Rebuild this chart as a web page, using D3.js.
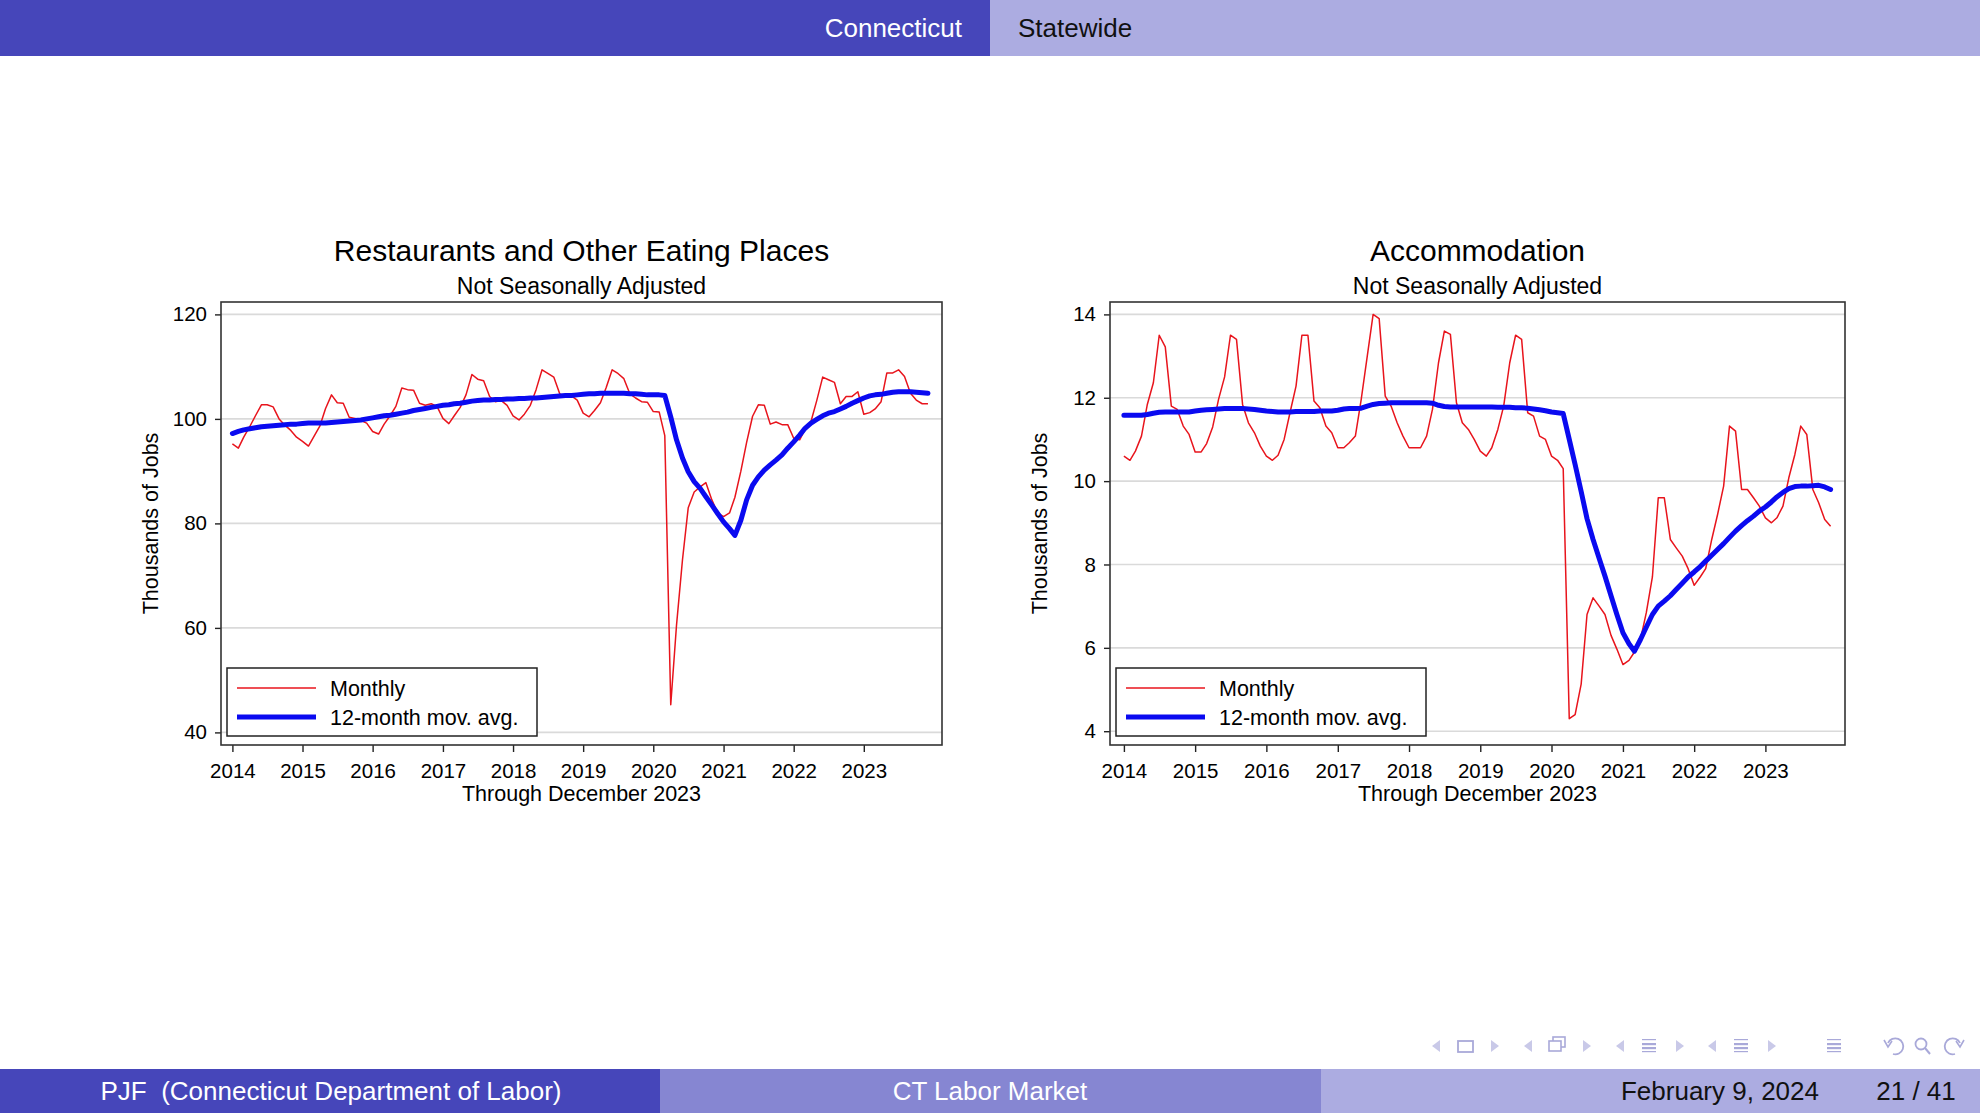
<!DOCTYPE html>
<html>
<head>
<meta charset="utf-8">
<script src="https://cdn.jsdelivr.net/npm/d3@7"></script>
<style>
  body { margin: 0; background: #fff; }
  svg text { font-family: "Liberation Sans", Arial, Helvetica, sans-serif; }
</style>
</head>
<body>
<svg id="slide" width="1980" height="1113"></svg>
<script>
// ---- data (thousands of jobs, Jan 2014 .. Dec 2023) ----
const years = [2014, 2015, 2016, 2017, 2018, 2019, 2020, 2021, 2022, 2023];
const months = d3.range(years.length * 12).map(i => new Date(years[0], i, 1));

const restMonthly = [
  95.2, 94.4, 96.5, 98.5, 100.6, 102.7, 102.7, 102.3, 100.0, 98.8, 97.8, 96.5,
  95.7, 94.8, 96.6, 98.6, 102.0, 104.6, 103.1, 103.0, 100.3, 100.1, 99.7, 99.2,
  97.6, 97.1, 99.0, 100.6, 102.4, 105.9, 105.6, 105.5, 103.0, 102.6, 102.9, 102.4,
  100.1, 99.1, 100.6, 102.2, 104.6, 108.5, 107.6, 107.3, 104.3, 103.3, 103.5, 102.6,
  100.6, 99.8, 100.9, 102.6, 105.6, 109.4, 108.7, 108.0, 104.8, 104.2, 104.4, 103.6,
  101.1, 100.4, 101.6, 103.1, 106.0, 109.4, 108.7, 107.7, 104.8, 104.0, 103.3, 103.2,
  101.4, 101.3, 96.8, 45.3, 60.5, 73.0, 83.0, 86.0, 87.0, 87.8, 84.5, 82.0,
  81.3, 82.0, 85.0, 90.0, 95.5, 100.5, 102.7, 102.6, 99.0, 99.4, 98.9, 98.9,
  96.3, 96.0, 98.0, 99.5, 103.5, 108.0, 107.5, 107.0, 102.9, 104.3, 104.3, 105.2,
  100.9, 101.2, 101.9, 103.3, 108.8, 108.8, 109.4, 108.1, 104.9, 103.6, 102.9, 102.9
];
const restAvg = [
  97.2, 97.6, 97.9, 98.1, 98.3, 98.5, 98.6, 98.7, 98.8, 98.9, 99.0, 99.0,
  99.1, 99.2, 99.2, 99.2, 99.2, 99.3, 99.4, 99.5, 99.6, 99.7, 99.8, 100.0,
  100.2, 100.4, 100.6, 100.7, 100.9, 101.1, 101.3, 101.6, 101.8, 102.0, 102.2, 102.4,
  102.6, 102.7, 102.9, 103.0, 103.2, 103.4, 103.5, 103.6, 103.6, 103.7, 103.7, 103.8,
  103.8, 103.9, 103.9, 104.0, 104.0, 104.1, 104.2, 104.3, 104.4, 104.5, 104.5, 104.6,
  104.7, 104.8, 104.8, 104.9, 104.9, 104.9, 104.9, 104.9, 104.8, 104.8, 104.7, 104.6,
  104.6, 104.6, 104.5, 100.4, 96.0, 92.5, 89.9, 88.0, 86.7, 85.1, 83.5, 81.9,
  80.3, 79.0, 77.7, 80.6, 84.5, 87.3, 88.9, 90.2, 91.2, 92.1, 93.1, 94.4,
  95.6, 96.9, 98.2, 99.2, 99.9, 100.6, 101.1, 101.4, 101.9, 102.4, 103.0, 103.5,
  104.0, 104.4, 104.6, 104.7, 104.9, 105.1, 105.2, 105.2, 105.2, 105.1, 105.0, 104.9
];

const accMonthly = [
  10.6, 10.5, 10.72, 11.08, 11.84, 12.36, 13.5, 13.22, 11.8, 11.72, 11.32, 11.12,
  10.7, 10.7, 10.9, 11.3, 11.96, 12.5, 13.5, 13.4, 11.84, 11.4, 11.16, 10.84,
  10.6, 10.5, 10.62, 11.0, 11.64, 12.28, 13.5, 13.5, 11.92, 11.76, 11.32, 11.16,
  10.8, 10.8, 10.92, 11.08, 11.96, 13.0, 14.0, 13.9, 12.04, 11.8, 11.4, 11.08,
  10.8, 10.8, 10.8, 11.08, 11.72, 12.84, 13.6, 13.52, 11.88, 11.4, 11.24, 11.0,
  10.72, 10.6, 10.8, 11.24, 11.8, 12.84, 13.5, 13.4, 11.64, 11.56, 11.08, 11.0,
  10.6, 10.5, 10.3, 4.3, 4.4, 5.13, 6.8, 7.2, 7.0, 6.8, 6.3, 5.97,
  5.6, 5.7, 5.9, 6.2, 6.85, 7.7, 9.6, 9.6, 8.6, 8.4, 8.2, 7.9,
  7.5, 7.7, 7.9, 8.6, 9.2, 9.88, 11.32, 11.2, 9.8, 9.8, 9.6, 9.4,
  9.12, 9.0, 9.12, 9.4, 10.08, 10.64, 11.32, 11.12, 9.8, 9.48, 9.08, 8.92
];
const accAvg = [
  11.58, 11.58, 11.58, 11.58, 11.60, 11.63, 11.65, 11.66, 11.66, 11.66, 11.66, 11.66,
  11.68, 11.70, 11.71, 11.72, 11.73, 11.74, 11.74, 11.74, 11.74, 11.73, 11.72, 11.70,
  11.68, 11.67, 11.66, 11.66, 11.66, 11.67, 11.67, 11.67, 11.67, 11.68, 11.68, 11.68,
  11.70, 11.73, 11.74, 11.74, 11.75, 11.80, 11.84, 11.86, 11.87, 11.88, 11.88, 11.88,
  11.88, 11.88, 11.88, 11.88, 11.87, 11.82, 11.79, 11.78, 11.78, 11.78, 11.78, 11.78,
  11.78, 11.78, 11.78, 11.77, 11.77, 11.77, 11.76, 11.76, 11.75, 11.73, 11.71, 11.69,
  11.66, 11.64, 11.62, 11.00, 10.40, 9.75, 9.10, 8.60, 8.15, 7.72, 7.25, 6.80,
  6.36, 6.10, 5.92, 6.20, 6.50, 6.80, 7.00, 7.12, 7.25, 7.40, 7.55, 7.70,
  7.82, 7.95, 8.08, 8.22, 8.36, 8.50, 8.65, 8.80, 8.93, 9.05, 9.16, 9.28,
  9.38, 9.50, 9.62, 9.73, 9.82, 9.87, 9.88, 9.88, 9.89, 9.90, 9.86, 9.80
];

const restTicks = [40, 60, 80, 100, 120];
const accTicks = [4, 6, 8, 10, 12, 14];
const legendLabels = ["Monthly", "12-month mov. avg."];

const svg = d3.select("#slide");

// ---- beamer header / footer ----
const dark = "#4646BA", mid = "#8686D2", light = "#ACACE1";
svg.append("rect").attr("x", 0).attr("y", 0).attr("width", 990).attr("height", 56).attr("fill", dark);
svg.append("rect").attr("x", 990).attr("y", 0).attr("width", 990).attr("height", 56).attr("fill", light);
svg.append("text").attr("x", 962).attr("y", 37).attr("text-anchor", "end")
  .attr("font-size", 26).attr("fill", "#fff").text("Connecticut");
svg.append("text").attr("x", 1018).attr("y", 37)
  .attr("font-size", 26).attr("fill", "#111").text("Statewide");

const footY = 1069;
svg.append("rect").attr("x", 0).attr("y", footY).attr("width", 660).attr("height", 44).attr("fill", dark);
svg.append("rect").attr("x", 660).attr("y", footY).attr("width", 661).attr("height", 44).attr("fill", mid);
svg.append("rect").attr("x", 1321).attr("y", footY).attr("width", 659).attr("height", 44).attr("fill", light);
svg.append("text").attr("x", 331).attr("y", 1100).attr("text-anchor", "middle")
  .attr("font-size", 26).attr("fill", "#fff").attr("xml:space", "preserve")
  .text("PJF  (Connecticut Department of Labor)");
svg.append("text").attr("x", 990).attr("y", 1100).attr("text-anchor", "middle")
  .attr("font-size", 26).attr("fill", "#fff").text("CT Labor Market");
svg.append("text").attr("x", 1720).attr("y", 1100).attr("text-anchor", "middle")
  .attr("font-size", 26).attr("fill", "#111").text("February 9, 2024");
svg.append("text").attr("x", 1916).attr("y", 1100).attr("text-anchor", "middle")
  .attr("font-size", 26).attr("fill", "#111").text("21 / 41");

// navigation symbols (beamer)
function navIcons(g) {
  const cy = 1046, arrow = "#C9C9E8", icon = "#A9A9D9";
  const tri = (x, dir) => g.append("path")
    .attr("d", `M${x + dir * 4},${cy - 6} L${x - dir * 4},${cy} L${x + dir * 4},${cy + 6} Z`)
    .attr("fill", arrow);
  const lines = (x) => {
    [-7, -3, 1, 5].forEach((dy, i) => g.append("rect")
      .attr("x", x - 7).attr("y", cy + dy).attr("width", 14).attr("height", i % 3 == 0 ? 1.2 : 2.2)
      .attr("fill", icon));
  };
  tri(1436, 1); tri(1495, -1);
  g.append("rect").attr("x", 1458).attr("y", cy - 5).attr("width", 15).attr("height", 11)
    .attr("fill", "none").attr("stroke", icon).attr("stroke-width", 1.8);
  tri(1528, 1); tri(1587, -1);
  g.append("rect").attr("x", 1553).attr("y", cy - 9).attr("width", 12).attr("height", 10)
    .attr("fill", "#fff").attr("stroke", icon).attr("stroke-width", 1.6);
  g.append("rect").attr("x", 1549).attr("y", cy - 5).attr("width", 12).attr("height", 10)
    .attr("fill", "#fff").attr("stroke", icon).attr("stroke-width", 1.6);
  tri(1620, 1); lines(1649); tri(1680, -1);
  tri(1712, 1); lines(1741); tri(1772, -1);
  lines(1834);
  g.append("path").attr("d", `M1888,${cy - 3} A8,8 0 1 1 1893,${cy + 8}`)
    .attr("fill", "none").attr("stroke", icon).attr("stroke-width", 1.8);
  g.append("path").attr("d", `M1884,${cy - 6} L1888,${cy + 1} L1892,${cy - 5}`)
    .attr("fill", "none").attr("stroke", icon).attr("stroke-width", 1.6);
  g.append("circle").attr("cx", 1921).attr("cy", cy - 2).attr("r", 5.5)
    .attr("fill", "none").attr("stroke", icon).attr("stroke-width", 1.8);
  g.append("line").attr("x1", 1925).attr("y1", cy + 2).attr("x2", 1930).attr("y2", cy + 8)
    .attr("stroke", icon).attr("stroke-width", 2);
  g.append("path").attr("d", `M1960,${cy - 3} A8,8 0 1 0 1955,${cy + 8}`)
    .attr("fill", "none").attr("stroke", icon).attr("stroke-width", 1.8);
  g.append("path").attr("d", `M1964,${cy - 6} L1960,${cy + 1} L1956,${cy - 5}`)
    .attr("fill", "none").attr("stroke", icon).attr("stroke-width", 1.6);
}
navIcons(svg.append("g"));

// ---- one Stata-style panel ----
function drawPanel(p) {
  const g = svg.append("g");
  const x = d3.scaleTime()
    .domain([new Date(years[0], 0, 1), new Date(years[years.length - 1], 0, 1)])
    .range([p.x0, p.x1]);
  const y = d3.scaleLinear().domain(p.yDomain).range([p.y0, p.y1]);
  const cx = (p.left + p.right) / 2;

  g.append("text").attr("x", cx).attr("y", 261).attr("text-anchor", "middle")
    .attr("font-size", 30).attr("fill", "#000").text(p.title);
  g.append("text").attr("x", cx).attr("y", 294).attr("text-anchor", "middle")
    .attr("font-size", 23).attr("fill", "#000").text("Not Seasonally Adjusted");

  // gridlines
  g.append("g").selectAll("line").data(p.yTicks).join("line")
    .attr("x1", p.left).attr("x2", p.right)
    .attr("y1", d => y(d)).attr("y2", d => y(d))
    .attr("stroke", "#DADADA").attr("stroke-width", 1.6);

  // axes
  const ya = g.append("g").attr("transform", `translate(${p.left},0)`)
    .call(d3.axisLeft(y).tickValues(p.yTicks).tickSize(6).tickPadding(8));
  const xa = g.append("g").attr("transform", `translate(0,${p.bottom})`)
    .call(d3.axisBottom(x).tickValues(years.map(v => new Date(v, 0, 1)))
      .tickFormat(d3.timeFormat("%Y")).tickSize(7).tickPadding(11));
  [ya, xa].forEach(a => {
    a.select(".domain").remove();
    a.selectAll(".tick line").attr("stroke", "#222").attr("stroke-width", 1.4);
    a.selectAll(".tick text").attr("font-size", 20.5).attr("fill", "#000")
      .attr("font-family", "Liberation Sans, Arial, sans-serif");
  });

  g.append("text").attr("x", cx).attr("y", 801).attr("text-anchor", "middle")
    .attr("font-size", 21.5).attr("fill", "#000").text("Through December 2023");
  g.append("text").attr("transform", `translate(${p.left - 71},${(p.top + p.bottom) / 2}) rotate(-90)`)
    .attr("text-anchor", "middle").attr("dy", "0.35em")
    .attr("font-size", 21.5).attr("fill", "#000").text("Thousands of Jobs");

  // series
  const line = d3.line().x((d, i) => x(months[i])).y(d => y(d));
  g.append("path").datum(p.monthly).attr("d", line)
    .attr("fill", "none").attr("stroke", "#E8141C").attr("stroke-width", 1.5)
    .attr("stroke-linejoin", "round");
  g.append("path").datum(p.avg).attr("d", line)
    .attr("fill", "none").attr("stroke", "#0A0AF0").attr("stroke-width", 5)
    .attr("stroke-linejoin", "round").attr("stroke-linecap", "round");

  // frame
  g.append("rect").attr("x", p.left).attr("y", p.top)
    .attr("width", p.right - p.left).attr("height", p.bottom - p.top)
    .attr("fill", "none").attr("stroke", "#333").attr("stroke-width", 1.6);

  // legend
  const lg = g.append("g").attr("transform", `translate(${p.left + 6},668)`);
  lg.append("rect").attr("width", 310).attr("height", 68)
    .attr("fill", "#fff").attr("stroke", "#222").attr("stroke-width", 1.5);
  const styles = [{ c: "#E8141C", w: 1.5 }, { c: "#0A0AF0", w: 5 }];
  legendLabels.forEach((lab, i) => {
    const ly = 20 + i * 29;
    lg.append("line").attr("x1", 10).attr("x2", 89).attr("y1", ly).attr("y2", ly)
      .attr("stroke", styles[i].c).attr("stroke-width", styles[i].w);
    lg.append("text").attr("x", 103).attr("y", ly + 8)
      .attr("font-size", 21.5).attr("fill", "#000").text(lab);
  });
}

drawPanel({
  title: "Restaurants and Other Eating Places",
  left: 221, right: 942, top: 302, bottom: 745,
  x0: 232.4, x1: 863.8, y0: 732.4, y1: 314.4,
  yDomain: [40, 120], yTicks: restTicks,
  monthly: restMonthly, avg: restAvg
});
drawPanel({
  title: "Accommodation",
  left: 1110, right: 1845, top: 302, bottom: 745,
  x0: 1123.9, x1: 1765.4, y0: 731.2, y1: 314.4,
  yDomain: [4, 14], yTicks: accTicks,
  monthly: accMonthly, avg: accAvg
});
</script>
</body>
</html>
